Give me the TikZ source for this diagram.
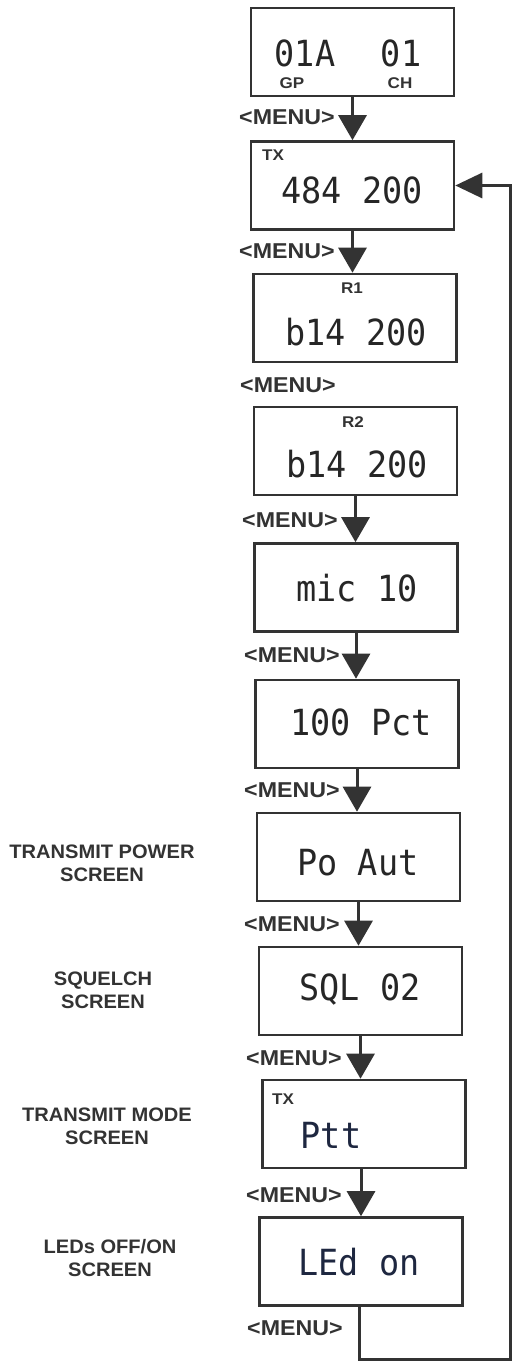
\documentclass[tikz,border=0pt]{standalone}
\usepackage{fontspec}
\setmainfont{Liberation Sans}
\newfontfamily\lcdfont{DejaVu Sans Mono}
\usetikzlibrary{arrows.meta}
\definecolor{ink}{HTML}{333333}
\definecolor{lcdink}{HTML}{262626}
\definecolor{lcdblue}{HTML}{1E2740}
\tikzset{
  screen/.style={draw=ink, line width=2.6pt, minimum width=203pt, minimum height=88pt, inner sep=0pt},
  lcd/.style={text=lcdink, inner sep=0pt, font=\lcdfont\fontsize{36}{36}\selectfont},
  lcdb/.style={lcd, text=lcdblue},
  tag/.style={text=ink, inner sep=0pt, font=\bfseries\fontsize{15.5}{15.5}\selectfont},
  menu/.style={text=ink, inner sep=0pt, anchor=west, font=\bfseries\fontsize{21.5}{21.5}\selectfont},
  side/.style={text=ink, inner sep=0pt, align=center, font=\bfseries\fontsize{19.5}{23}\selectfont},
  flow/.style={draw=ink, line width=3pt, -{Triangle[width=28pt,length=25pt]}},
  loop/.style={draw=ink, line width=3pt, -{Triangle[width=25pt,length=27pt]}}
}
\newcommand{\wide}[2]{\scalebox{#1}[1]{#2}}
\newcommand{\lcdtext}[1]{\scalebox{0.93}[1]{#1}}
\begin{document}
\begin{tikzpicture}[x=1pt,y=-1pt]
\useasboundingbox[fill=white] (0,0) rectangle (515,1362);
% screens
\node[screen] (b1) at (352.5,52) {};
\node[screen] (b2) at (352.5,185.5) {};
\node[screen] (b3) at (355,318) {};
\node[screen] (b4) at (355.5,451) {};
\node[screen] (b5) at (356,587.5) {};
\node[screen] (b6) at (357,724) {};
\node[screen] (b7) at (358.5,857) {};
\node[screen] (b8) at (360.5,991) {};
\node[screen] (b9) at (364,1124) {};
\node[screen] (b10) at (361,1261.5) {};
% screen contents
\node[lcd] (t1a) at (305,53) {\lcdtext{01A}};
\node[lcd] (t1b) at (401,53) {\lcdtext{01}};
\node[tag] (gp) at (292,83) {\wide{1.1}{GP}};
\node[tag] (ch) at (400,83) {\wide{1.1}{CH}};
\node[tag] (tx1) at (273,155) {\wide{1.1}{TX}};
\node[lcd] (t2) at (352,190) {\lcdtext{484 200}};
\node[tag] (r1) at (352,288) {\wide{1.1}{R1}};
\node[lcd] (t3) at (356,332) {\lcdtext{b14 200}};
\node[tag] (r2) at (353,422) {\wide{1.1}{R2}};
\node[lcd] (t4) at (357,464) {\lcdtext{b14 200}};
\node[lcd] (t5) at (357,588) {\lcdtext{mic 10}};
\node[lcd] (t6) at (361,722) {\lcdtext{100 Pct}};
\node[lcd] (t7) at (358,863) {\lcdtext{Po Aut}};
\node[lcd] (t8) at (360,990) {\lcdtext{SQL 02}};
\node[tag] (tx2) at (283,1099) {\wide{1.1}{TX}};
\node[lcdb] (t9) at (331,1135) {\lcdtext{Ptt}};
\node[lcdb] (t10) at (359,1262) {\lcdtext{LEd on}};
% menu labels
\node[menu] (m1) at (239,117) {\wide{1.08}{<MENU>}};
\node[menu] (m2) at (239,251) {\wide{1.08}{<MENU>}};
\node[menu] (m3) at (240,385) {\wide{1.08}{<MENU>}};
\node[menu] (m4) at (242,520) {\wide{1.08}{<MENU>}};
\node[menu] (m5) at (244,655) {\wide{1.08}{<MENU>}};
\node[menu] (m6) at (244,790) {\wide{1.08}{<MENU>}};
\node[menu] (m7) at (244,924) {\wide{1.08}{<MENU>}};
\node[menu] (m8) at (246,1058) {\wide{1.08}{<MENU>}};
\node[menu] (m9) at (246,1195) {\wide{1.08}{<MENU>}};
\node[menu] (m10) at (247,1328) {\wide{1.08}{<MENU>}};
% side labels
\node[side] (s7) at (102,863) {\wide{1.03}{TRANSMIT POWER}\\\wide{1.03}{SCREEN}};
\node[side] (s8) at (103,990) {\wide{1.03}{SQUELCH}\\\wide{1.03}{SCREEN}};
\node[side] (s9) at (107,1126) {\wide{1.03}{TRANSMIT MODE}\\\wide{1.03}{SCREEN}};
\node[side] (s10) at (110,1258) {\wide{1.03}{LEDs OFF/ON}\\\wide{1.03}{SCREEN}};
% arrows
\draw[flow] (b1.south) -- (b1.south |- b2.north);
\draw[flow] (b2.south) -- (b2.south |- b3.north);
\draw[flow] (b4.south) -- (b4.south |- b5.north);
\draw[flow] (b5.south) -- (b5.south |- b6.north);
\draw[flow] (b6.south) -- (b6.south |- b7.north);
\draw[flow] (b7.south) -- (b7.south |- b8.north);
\draw[flow] (b8.south) -- (b8.south |- b9.north);
\draw[flow] (b10.north |- b9.south) -- (b10.north);
\coordinate (lc) at (510,1359);
\draw[loop] ([xshift=-2pt]b10.south) |- (lc) |- (b2.east);
\end{tikzpicture}
\end{document}
